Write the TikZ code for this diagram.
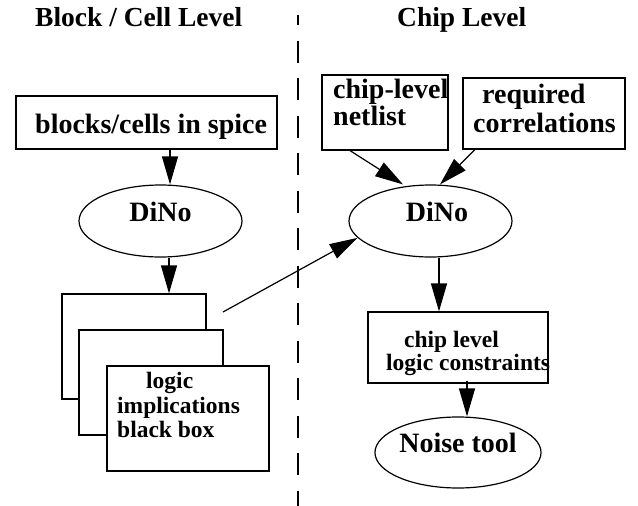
\documentclass[tikz,border=0pt]{standalone}
\usepackage{fontspec}
\setmainfont{Liberation Serif}
\usetikzlibrary{arrows.meta,shapes.geometric}

\tikzset{
  box/.style={draw, line width=1.2pt, fill=white, inner sep=0pt, rectangle},
  oval/.style={draw, line width=1.2pt, ellipse, inner sep=0pt,
               minimum width=163pt, minimum height=72pt,
               text height=19pt, text depth=19pt,
               font=\fontsize{28pt}{29pt}\selectfont\bfseries},
  title/.style={inner sep=0pt, anchor=base west, font=\fontsize{27.5pt}{29pt}\selectfont\bfseries},
  big/.style={inner sep=0pt, anchor=base west, font=\fontsize{28pt}{29pt}\selectfont\bfseries},
  small/.style={inner sep=0pt, anchor=base west, font=\fontsize{23.5pt}{25pt}\selectfont\bfseries},
  arr/.style={line width=1.2pt, -{Triangle[length=28pt,width=16pt]}},
  sep/.style={line width=1.2pt, dash pattern=on 22pt off 15.5pt, dash phase=12pt}
}

\begin{document}
\begin{tikzpicture}[x=1pt,y=-1pt]
\path[use as bounding box] (0,0) rectangle (638,506);

% column headings and the dashed divider
\node[title] (tblock) at (35,27) {Block / Cell Level};
\node[title] (tchip) at (397,27) {Chip Level};
\coordinate (septop) at (298,15);
\coordinate (sepbot) at (298,506);
\draw[sep] (septop) -- (sepbot);

% block / cell level flow
\node[box, minimum width=261pt, minimum height=53pt] (blockbox) at (146.5,122.5) {};
\node[big] (tblockbox) at (35,133) {blocks/cells in spice};
\node[oval] (dinoL) at (160.5,221) {DiNo};

\node[box, minimum width=144pt, minimum height=105pt] (stackA) at (134,346.5) {};
\node[box, minimum width=144pt, minimum height=105pt] (stackB) at (151,382.5) {};
\node[box, minimum width=162pt, minimum height=105pt] (stackC) at (188,418.5) {};
\node[small] (tlogic) at (146,388) {logic};
\node[small] (timpl) at (117,413) {implications};
\node[small] (tbbox) at (117,437) {black box};

% chip level flow
\node[box, minimum width=126pt, minimum height=75pt] (chipbox) at (385,112.5) {};
\node[big] (tchip1) at (333,98) {chip-level};
\node[big] (tchip2) at (333,125) {netlist};
\node[box, minimum width=162pt, minimum height=71pt] (reqbox) at (544,113.5) {};
\node[big] (treq1) at (482,103) {required};
\node[big] (treq2) at (473,132) {correlations};

\node[oval] (dinoR) at (430.5,221) {\hspace{13pt}DiNo};

\node[box, minimum width=180pt, minimum height=71pt] (consbox) at (458,347.5) {};
\node[small] (tcons1) at (404,347) {chip level};
\node[small] (tcons2) at (386,370) {logic constraints};

\node[oval, minimum width=162pt, minimum height=71pt] (noise) at (458,452.5) {Noise tool};

% connectors
\draw[arr] ([xshift=23.5pt]blockbox.south) -- ([xshift=9.5pt]dinoL.north);
\draw[arr] ([xshift=8.5pt]dinoL.south) -- ([xshift=35pt]stackA.north);
\coordinate (linkstart) at (223,312);
\draw[arr] (linkstart) -- (dinoR.193);
\draw[arr] ([xshift=-35pt]chipbox.south) -- ([xshift=-27.5pt]dinoR.north);
\draw[arr] ([xshift=-69pt]reqbox.south) -- ([xshift=9.5pt]dinoR.north);
\draw[arr] ([xshift=8.5pt]dinoR.south) -- ([xshift=-19pt]consbox.north);
\draw[arr] ([xshift=9pt,yshift=3pt]consbox.south) -- ([xshift=9pt]noise.north);
\end{tikzpicture}
\end{document}
